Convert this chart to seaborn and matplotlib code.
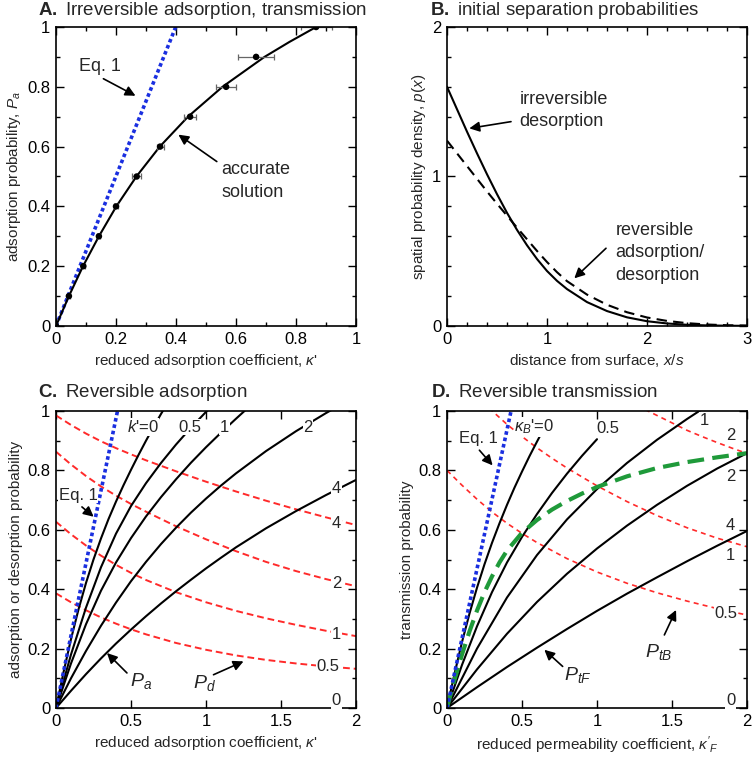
import matplotlib
matplotlib.use('Agg')
import matplotlib.pyplot as plt
import numpy as np
import pandas as pd
import seaborn as sns

sns.set_style('ticks')
plt.rcParams['font.family'] = ['Liberation Sans', 'DejaVu Sans']
plt.rcParams['mathtext.fontset'] = 'custom'
plt.rcParams['mathtext.rm'] = 'Liberation Sans'
plt.rcParams['mathtext.it'] = 'Liberation Sans:italic'
plt.rcParams['mathtext.bf'] = 'Liberation Sans:bold'

# ---------------- A. irreversible adsorption ----------------
a_kappa = [0, 0.043, 0.091, 0.143, 0.2, 0.269, 0.347, 0.447, 0.567, 0.667, 0.867]
a_prob = [0, 0.1, 0.2, 0.3, 0.4, 0.5, 0.6, 0.7, 0.8, 0.9, 1.0]
a_err = [0.004, 0.004, 0.005, 0.005, 0.006, 0.015, 0.012, 0.02, 0.032, 0.06, 0.052]
a_curve_x = [0, 0.043, 0.09, 0.143, 0.201, 0.268, 0.346, 0.44, 0.555, 0.695, 0.778, 0.867]
a_curve_y = [0, 0.1, 0.2, 0.3, 0.4, 0.5, 0.6, 0.7, 0.8, 0.9, 0.95, 1.0]
a_eq1_x = [0, 0.399]
a_eq1_y = [0, 1.0]

# ---------------- B. initial separation ----------------
b_x = [0, 0.1, 0.2, 0.3, 0.4, 0.5, 0.6, 0.7, 0.8, 0.9, 1.0, 1.1, 1.2, 1.4, 1.6, 1.8, 2.0, 2.2, 2.4, 2.6, 2.8, 3.0]
b_irrev = [1.6, 1.45, 1.30, 1.155, 1.015, 0.882, 0.757, 0.643, 0.54, 0.448, 0.368, 0.302, 0.247, 0.16, 0.1, 0.058, 0.032, 0.017, 0.008, 0.004, 0.002, 0.001]
b_rev = [1.24, 1.155, 1.07, 0.985, 0.9, 0.818, 0.738, 0.658, 0.58, 0.502, 0.428, 0.36, 0.3, 0.21, 0.142, 0.092, 0.057, 0.034, 0.019, 0.01, 0.005, 0.003]

# ---------------- C. reversible adsorption ----------------
c_eq1_x = [0, 0.41]
c_eq1_y = [0, 1.0]
c_x1 = [0, 0.1, 0.2, 0.3, 0.4, 0.5, 0.6, 0.7, 0.8, 0.9, 1.0, 1.1, 1.2, 1.3]
c_x2 = [0, 0.1, 0.2, 0.3, 0.4, 0.5, 0.6, 0.7, 0.8, 0.9, 1.0, 1.1, 1.2, 1.4, 1.6, 1.8, 2.0]
c_pa = {
    '0': ([0, 0.05, 0.1, 0.15, 0.2, 0.25, 0.3, 0.35, 0.4, 0.45, 0.5, 0.55, 0.6, 0.65, 0.7, 0.75],
          [0, 0.12, 0.232, 0.332, 0.421, 0.5, 0.571, 0.636, 0.695, 0.75, 0.802, 0.852, 0.9, 0.946, 0.99, 1.032]),
    '0.5': (c_x1[:12], [0, 0.18, 0.338, 0.474, 0.587, 0.68, 0.757, 0.825, 0.887, 0.944, 0.997, 1.047]),
    '1': (c_x1, [0, 0.15, 0.282, 0.395, 0.49, 0.572, 0.645, 0.71, 0.77, 0.826, 0.878, 0.927, 0.974, 1.02]),
    '2': (c_x2, [0, 0.1, 0.192, 0.277, 0.355, 0.427, 0.492, 0.552, 0.607, 0.658, 0.705, 0.749, 0.79, 0.865, 0.932, 0.993, 1.05]),
    '4': (c_x2, [0, 0.058, 0.114, 0.167, 0.217, 0.264, 0.309, 0.352, 0.393, 0.432, 0.47, 0.506, 0.541, 0.605, 0.663, 0.717, 0.768]),
}
c_pd_x = [0, 0.1, 0.2, 0.3, 0.4, 0.5, 0.6, 0.8, 1.0, 1.2, 1.4, 1.6, 1.8, 2.0]
c_pd = {
    '4': [0.985, 0.953, 0.924, 0.898, 0.875, 0.854, 0.834, 0.797, 0.762, 0.729, 0.698, 0.669, 0.642, 0.616],
    '2': [0.863, 0.82, 0.781, 0.746, 0.715, 0.687, 0.661, 0.612, 0.568, 0.528, 0.492, 0.461, 0.434, 0.41],
    '1': [0.627, 0.585, 0.547, 0.513, 0.482, 0.455, 0.431, 0.39, 0.356, 0.327, 0.302, 0.28, 0.26, 0.242],
    '0.5': [0.386, 0.356, 0.329, 0.305, 0.284, 0.265, 0.248, 0.219, 0.196, 0.177, 0.162, 0.15, 0.14, 0.132],
}

# ---------------- D. reversible transmission ----------------
d_eq1_x = [0, 0.427]
d_eq1_y = [0, 1.0]
d_grid = [0, 0.2, 0.4, 0.6, 0.8, 1.0, 1.2, 1.4, 1.6, 1.8, 2.0]
d_ptf = {
    '0': ([0, 0.05, 0.1, 0.15, 0.2, 0.25, 0.3, 0.35, 0.4, 0.45, 0.5, 0.55, 0.6, 0.62],
          [0, 0.115, 0.222, 0.318, 0.405, 0.484, 0.556, 0.622, 0.684, 0.742, 0.796, 0.848, 0.897, 0.916]),
    '0.5': ([0, 0.1, 0.2, 0.3, 0.4, 0.5, 0.6, 0.7, 0.8, 0.9, 1.0],
            [0, 0.145, 0.275, 0.39, 0.49, 0.576, 0.653, 0.724, 0.789, 0.849, 0.905]),
    '1': ([0, 0.2, 0.4, 0.6, 0.8, 1.0, 1.2, 1.4, 1.6, 1.7],
          [0, 0.2, 0.372, 0.515, 0.635, 0.737, 0.825, 0.903, 0.973, 1.006]),
    '2': (d_grid, [0, 0.13, 0.25, 0.357, 0.452, 0.537, 0.614, 0.684, 0.748, 0.806, 0.858]),
    '4': (d_grid, [0, 0.07, 0.138, 0.203, 0.266, 0.327, 0.385, 0.44, 0.494, 0.546, 0.596]),
}
d_green_x = [0, 0.05, 0.1, 0.15, 0.2, 0.25, 0.3, 0.35, 0.4, 0.5, 0.6, 0.7, 0.8, 0.9, 1.0, 1.2, 1.4, 1.6, 1.8, 2.0]
d_green_y = [0, 0.095, 0.18, 0.258, 0.328, 0.39, 0.443, 0.49, 0.53, 0.59, 0.633, 0.668, 0.697, 0.722, 0.744, 0.78, 0.808, 0.828, 0.844, 0.858]
d_ptb = {
    '0.5': ([0, 0.1, 0.2, 0.3, 0.4, 0.5, 0.6, 0.8, 1.0, 1.2, 1.4, 1.6, 1.8, 2.0],
            [0.8, 0.75, 0.703, 0.66, 0.622, 0.588, 0.557, 0.503, 0.458, 0.42, 0.388, 0.36, 0.335, 0.313]),
    '1': ([0.28, 0.4, 0.5, 0.6, 0.7, 0.8, 1.0, 1.2, 1.4, 1.6, 1.8, 2.0],
          [1.01, 0.955, 0.914, 0.876, 0.841, 0.808, 0.748, 0.695, 0.648, 0.607, 0.572, 0.543]),
    '2': ([1.32, 1.5, 1.6, 1.7, 1.8, 1.9, 2.0],
          [1.005, 0.96, 0.935, 0.914, 0.894, 0.875, 0.857]),
}

RED = '#ff2a2a'
BLUE = '#1a2fe0'
GREEN = '#1f9a3a'


def line(ax, x, y, **kw):
    sns.lineplot(x=x, y=y, ax=ax, sort=False, estimator=None, **kw)


def arrow(ax, tail, tip):
    ax.annotate('', xy=tip, xytext=tail,
                arrowprops=dict(arrowstyle='-|>', color='black', lw=1.2,
                                mutation_scale=15, shrinkA=0, shrinkB=0))


def label(ax, x, y, s, size=12):
    ax.text(x, y, s, fontsize=size, ha='left', va='center', zorder=5,
            bbox=dict(facecolor='white', edgecolor='none', pad=0.5))


def style(ax, xlim, ylim, xmaj, xmin, ymaj, ymin):
    ax.set_xlim(*xlim)
    ax.set_ylim(*ylim)
    ax.set_xticks(np.arange(xlim[0], xlim[1] + 1e-9, xmaj))
    ax.set_yticks(np.arange(ylim[0], ylim[1] + 1e-9, ymaj))
    if xmin:
        ax.set_xticks(np.arange(xlim[0], xlim[1] + 1e-9, xmin), minor=True)
    if ymin:
        ax.set_yticks(np.arange(ylim[0], ylim[1] + 1e-9, ymin), minor=True)
    ax.xaxis.set_major_formatter(matplotlib.ticker.FormatStrFormatter('%g'))
    ax.yaxis.set_major_formatter(matplotlib.ticker.FormatStrFormatter('%g'))
    ax.tick_params(which='both', direction='in', top=True, right=True,
                   labelsize=12, width=1.0, colors='black')
    ax.tick_params(which='major', length=6, pad=4)
    ax.tick_params(which='minor', length=3)
    for sp in ax.spines.values():
        sp.set_linewidth(1.2)
        sp.set_color('black')


fig = plt.figure(figsize=(7.53, 7.58), dpi=100)
W, H = 753, 758
axA = fig.add_axes([56 / W, 1 - 326 / H, 300 / W, 299 / H])
axB = fig.add_axes([447 / W, 1 - 326 / H, 300 / W, 299 / H])
axC = fig.add_axes([56 / W, 1 - 708 / H, 300 / W, 297 / H])
axD = fig.add_axes([447 / W, 1 - 708 / H, 300 / W, 297 / H])

# ---- A ----
ax = axA
line(ax, a_eq1_x, a_eq1_y, color=BLUE, lw=2.6, linestyle=(0, (1, 0.8)))
line(ax, a_curve_x, a_curve_y, color='black', lw=1.5)
ax.errorbar(a_kappa, a_prob, xerr=a_err, fmt='none', ecolor='0.4', elinewidth=0.9, capsize=2.5, capthick=0.9)
sns.scatterplot(x=a_kappa, y=a_prob, ax=ax, color='black', s=22, edgecolor='none', zorder=4)
style(ax, (0, 1), (0, 1), 0.2, 0.1, 0.2, 0.1)
ax.set_xlabel("reduced adsorption coefficient, $\\kappa$'", fontsize=11, labelpad=4)
ax.set_ylabel('adsorption probability, $P_a$', fontsize=11, labelpad=3)
ax.text(0.078, 0.868, 'Eq. 1', fontsize=13, ha='left', va='center')
arrow(ax, (0.158, 0.827), (0.265, 0.77))
ax.text(0.552, 0.522, 'accurate', fontsize=13, ha='left', va='center')
ax.text(0.552, 0.446, 'solution', fontsize=13, ha='left', va='center')
arrow(ax, (0.536, 0.55), (0.408, 0.64))

# ---- B ----
ax = axB
line(ax, b_x, b_irrev, color='black', lw=1.5)
line(ax, b_x, b_rev, color='black', lw=1.5, linestyle=(0, (5, 3)))
style(ax, (0, 3), (0, 2), 1, 0.2, 1, 0.2)
ax.set_xlabel('distance from surface, $x$/$s$', fontsize=11, labelpad=4)
ax.set_ylabel('spatial probability density, $p$($x$)', fontsize=11, labelpad=3)
ax.text(0.723, 1.512, 'irreversible', fontsize=13, ha='left', va='center')
ax.text(0.723, 1.367, 'desorption', fontsize=13, ha='left', va='center')
arrow(ax, (0.64, 1.367), (0.223, 1.322))
for yy, s in zip([0.642, 0.493, 0.341], ['reversible', 'adsorption/', 'desorption']):
    ax.text(1.683, yy, s, fontsize=13, ha='left', va='center')
arrow(ax, (1.59, 0.52), (1.273, 0.319))

# ---- C ----
ax = axC
for k, v in c_pd.items():
    line(ax, c_pd_x, v, color=RED, lw=1.4, linestyle=(0, (3.5, 2)))
for k, (xx, yy) in c_pa.items():
    line(ax, xx, yy, color='black', lw=1.5)
line(ax, c_eq1_x, c_eq1_y, color=BLUE, lw=2.6, linestyle=(0, (1, 0.8)))
style(ax, (0, 2), (0, 1), 0.5, None, 0.2, 0.1)
ax.set_xlabel("reduced adsorption coefficient, $\\kappa$'", fontsize=11, labelpad=4)
ax.set_ylabel('adsorption or desorption probability', fontsize=11, labelpad=3)
label(ax, 0.473, 0.946, "$k$'=0")
label(ax, 0.817, 0.946, '0.5')
label(ax, 1.094, 0.946, '1')
label(ax, 1.649, 0.946, '2')
label(ax, 1.838, 0.739, '4')
label(ax, 1.838, 0.621, '4')
label(ax, 1.838, 0.42, '2')
label(ax, 1.838, 0.246, '1')
label(ax, 1.738, 0.14, '0.5')
label(ax, 1.838, 0.025, '0')
label(ax, 0.018, 0.717, 'Eq. 1')
arrow(ax, (0.173, 0.677), (0.251, 0.644))
ax.text(0.495, 0.09, '$P_a$', fontsize=14, ha='left', va='center')
arrow(ax, (0.473, 0.118), (0.34, 0.185))
ax.text(0.912, 0.084, '$P_d$', fontsize=14, ha='left', va='center')
arrow(ax, (1.05, 0.112), (1.25, 0.157))

# ---- D ----
ax = axD
for k, (xx, yy) in d_ptb.items():
    line(ax, xx, yy, color=RED, lw=1.2, linestyle=(0, (3, 2.5)))
for k, (xx, yy) in d_ptf.items():
    line(ax, xx, yy, color='black', lw=1.5)
line(ax, d_green_x, d_green_y, color=GREEN, lw=3.0, linestyle=(0, (4, 2)))
line(ax, d_eq1_x, d_eq1_y, color=BLUE, lw=2.6, linestyle=(0, (1, 0.8)))
style(ax, (0, 2), (0, 1), 0.5, None, 0.2, 0.1)
ax.set_xlabel("reduced permeability coefficient, $\\kappa'_F$", fontsize=11, labelpad=4)
ax.set_ylabel('transmission probability', fontsize=11, labelpad=3)
label(ax, 0.078, 0.907, 'Eq. 1')
arrow(ax, (0.216, 0.868), (0.304, 0.817))
label(ax, 0.449, 0.946, "$\\kappa_B$'=0")
label(ax, 0.993, 0.941, '0.5')
label(ax, 1.682, 0.969, '1')
label(ax, 1.86, 0.918, '2')
label(ax, 1.86, 0.778, '2')
label(ax, 1.86, 0.616, '4')
label(ax, 1.86, 0.515, '1')
label(ax, 1.782, 0.319, '0.5')
label(ax, 1.86, 0.025, '0')
ax.text(0.782, 0.112, '$P_{tF}$', fontsize=14, ha='left', va='center')
arrow(ax, (0.771, 0.14), (0.649, 0.196))
ax.text(1.322, 0.19, '$P_{tB}$', fontsize=14, ha='left', va='center')
arrow(ax, (1.449, 0.246), (1.527, 0.33))

# panel titles
for xp, yp, s in [(38, 15, '$\\bf{A.}$ Irreversible adsorption, transmission'),
                  (430, 15, '$\\bf{B.}$ initial separation probabilities'),
                  (38, 397, '$\\bf{C.}$ Reversible adsorption'),
                  (431, 397, '$\\bf{D.}$ Reversible transmission')]:
    fig.text(xp / W, 1 - yp / H, s, fontsize=13.5, ha='left', va='baseline')

fig.savefig('out.png', dpi=100)
